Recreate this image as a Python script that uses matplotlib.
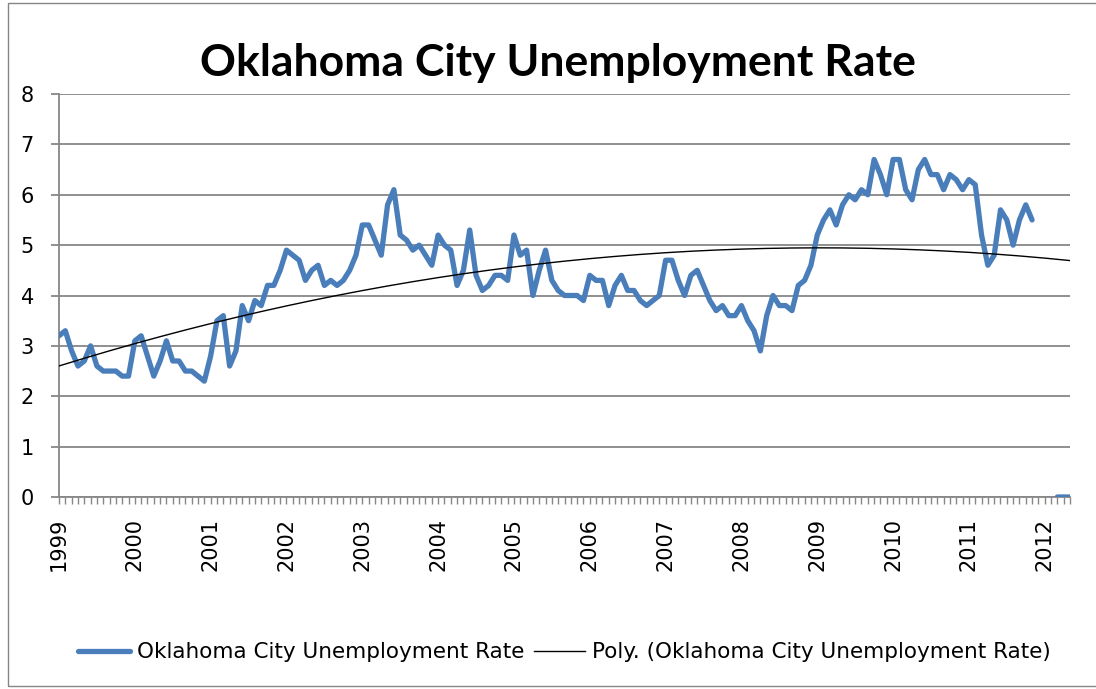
import matplotlib.pyplot as plt
import numpy as np
from matplotlib.patches import Rectangle

# monthly unemployment rate, Jan 1999 .. May 2012 (None = blank cell)
rate = [
    3.2, 3.3, 2.9, 2.6, 2.7, 3.0, 2.6, 2.5, 2.5, 2.5, 2.4, 2.4,   # 1999
    3.1, 3.2, 2.8, 2.4, 2.7, 3.1, 2.7, 2.7, 2.5, 2.5, 2.4, 2.3,   # 2000
    2.8, 3.5, 3.6, 2.6, 2.9, 3.8, 3.5, 3.9, 3.8, 4.2, 4.2, 4.5,   # 2001
    4.9, 4.8, 4.7, 4.3, 4.5, 4.6, 4.2, 4.3, 4.2, 4.3, 4.5, 4.8,   # 2002
    5.4, 5.4, 5.1, 4.8, 5.8, 6.1, 5.2, 5.1, 4.9, 5.0, 4.8, 4.6,   # 2003
    5.2, 5.0, 4.9, 4.2, 4.5, 5.3, 4.4, 4.1, 4.2, 4.4, 4.4, 4.3,   # 2004
    5.2, 4.8, 4.9, 4.0, 4.5, 4.9, 4.3, 4.1, 4.0, 4.0, 4.0, 3.9,   # 2005
    4.4, 4.3, 4.3, 3.8, 4.2, 4.4, 4.1, 4.1, 3.9, 3.8, 3.9, 4.0,   # 2006
    4.7, 4.7, 4.3, 4.0, 4.4, 4.5, 4.2, 3.9, 3.7, 3.8, 3.6, 3.6,   # 2007
    3.8, 3.5, 3.3, 2.9, 3.6, 4.0, 3.8, 3.8, 3.7, 4.2, 4.3, 4.6,   # 2008
    5.2, 5.5, 5.7, 5.4, 5.8, 6.0, 5.9, 6.1, 6.0, 6.7, 6.4, 6.0,   # 2009
    6.7, 6.7, 6.1, 5.9, 6.5, 6.7, 6.4, 6.4, 6.1, 6.4, 6.3, 6.1,   # 2010
    6.3, 6.2, 5.2, 4.6, 4.8, 5.7, 5.5, 5.0, 5.5, 5.8, 5.5, None,  # 2011
    None, None, 0, 0, 0,                                           # 2012
]
years = list(range(1999, 2013))

y = np.array([np.nan if v is None else v for v in rate], dtype=float)
x = np.arange(len(y))

# polynomial (order 2) trendline like Excel, blanks skipped
ok = ~np.isnan(y)
coef = np.polyfit(x[ok] + 1, y[ok], 2)
trend = np.polyval(coef, x + 1)

fig = plt.figure(figsize=(10.96, 6.89), dpi=100)
ax = fig.add_axes([59 / 1096, 1 - 497 / 689, 1011 / 1096, 403 / 689])

grid_c = '#878787'
ax.plot(x, y, color='#4a7ebb', lw=3.8, solid_capstyle='round', solid_joinstyle='round',
        label='Oklahoma City Unemployment Rate', zorder=3)
ax.plot(x, trend, color='black', lw=1.0, label='Poly. (Oklahoma City Unemployment Rate)', zorder=4)

ax.set_xlim(0, len(y) - 1)
ax.set_ylim(0, 8)
ax.set_yticks(range(0, 9))
ax.set_xticks(x[::12])
ax.set_xticklabels([str(v) for v in years], rotation=90)
ax.set_xticks(x, minor=True)

ax.grid(axis='y', color=grid_c, lw=1.3)
ax.set_axisbelow(True)
for s in ['top', 'right']:
    ax.spines[s].set_visible(False)
ax.spines['left'].set_color(grid_c)
ax.spines['bottom'].set_color(grid_c)
ax.spines['left'].set_linewidth(1.3)
ax.spines['bottom'].set_linewidth(1.3)
ax.tick_params(axis='y', length=6, color=grid_c, width=1.3, pad=12, labelsize=15)
ax.tick_params(axis='x', which='both', length=5, color=grid_c, width=1.0, pad=10, labelsize=15)

fig.text(0.509, 0.908, 'Oklahoma City Unemployment Rate', ha='center', va='center',
         fontsize=32, fontweight='bold', family='Lato')

fig.legend(loc='center', bbox_to_anchor=(0.515, 0.053), ncol=2, frameon=False,
           fontsize=15.5, handlelength=2.4, handletextpad=0.3, columnspacing=0.45)

fig.patches.append(Rectangle((8 / 1096, 3 / 689), 1.1, 683 / 689, transform=fig.transFigure,
                             fill=False, edgecolor='#868686', lw=1.0))

fig.savefig('out.png', dpi=100)
